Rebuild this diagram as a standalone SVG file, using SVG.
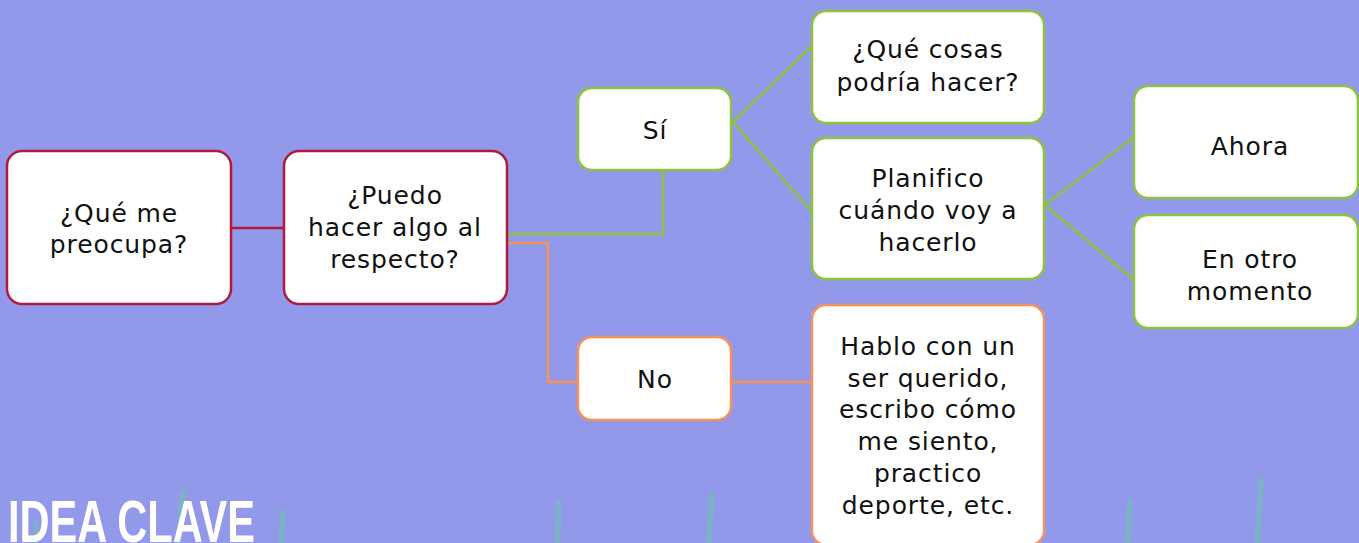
<svg xmlns="http://www.w3.org/2000/svg" width="1359" height="543" viewBox="0 0 1359 543">
<style>
.box{fill:#fff;stroke-width:2.5}
.red{stroke:#b01a3c}
.green{stroke:#8cc43f}
.orange{stroke:#f4925c}
.t{font-family:"DejaVu Sans","Open Sans",sans-serif;font-size:25px;letter-spacing:0.9px;fill:#111;text-anchor:middle}
.deco{stroke:#7fb0c9;stroke-width:6;stroke-linecap:round;fill:none}
.c{fill:none;stroke-width:2.5}
</style>
<rect width="1359" height="543" fill="#9399ea"/>
<g id="decor">
<line class="deco" x1="36" y1="524" x2="35" y2="548"/>
<line class="deco" x1="183" y1="493" x2="178" y2="548"/>
<line class="deco" x1="283" y1="512" x2="281" y2="548"/>
<line class="deco" x1="559" y1="502" x2="557" y2="548"/>
<line class="deco" x1="712" y1="495" x2="708" y2="548"/>
<line class="deco" x1="1130" y1="501" x2="1127" y2="548"/>
<line class="deco" x1="1261" y1="480" x2="1257" y2="548"/>
</g>
<text id="title" x="8" y="542" textLength="247" lengthAdjust="spacingAndGlyphs" font-family="'Liberation Sans Narrow','Liberation Sans',sans-serif" font-weight="bold" font-size="60" fill="#fff">IDEA CLAVE</text>
<g id="connectors">
<line class="c red" x1="231" y1="228" x2="284" y2="228"/>
<polyline class="c green" points="507,234 663,234 663,170"/>
<polyline class="c green" points="812,46 733,122 812,212"/>
<polyline class="c green" points="1134,137 1045,205 1134,280"/>
<polyline class="c orange" points="507,243 548,243 548,382 578,382"/>
<line class="c orange" x1="731" y1="382" x2="812" y2="382"/>
</g>
<g id="n1"><rect class="box red" x="7" y="151" width="224" height="153" rx="15"/>
<text class="t" x="119" y="222">¿Qué me</text><text class="t" x="119" y="253">preocupa?</text></g>
<g id="n2"><rect class="box red" x="284" y="151" width="223" height="153" rx="15"/>
<text class="t" x="395" y="204">¿Puedo</text><text class="t" x="395" y="236">hacer algo al</text><text class="t" x="395" y="268">respecto?</text></g>
<g id="n3"><rect class="box green" x="578" y="88" width="153" height="82" rx="14"/>
<text class="t" x="655" y="139">Sí</text></g>
<g id="n4"><rect class="box green" x="812" y="11" width="232" height="112" rx="14"/>
<text class="t" x="928" y="58">¿Qué cosas</text><text class="t" x="928" y="91">podría hacer?</text></g>
<g id="n5"><rect class="box green" x="812" y="138" width="232" height="141" rx="14"/>
<text class="t" x="928" y="187">Planifico</text><text class="t" x="928" y="219">cuándo voy a</text><text class="t" x="928" y="251">hacerlo</text></g>
<g id="n6"><rect class="box green" x="1134" y="86" width="224" height="112" rx="14"/>
<text class="t" x="1250" y="155">Ahora</text></g>
<g id="n7"><rect class="box green" x="1134" y="215" width="224" height="113" rx="14"/>
<text class="t" x="1250" y="268">En otro</text><text class="t" x="1250" y="300">momento</text></g>
<g id="n8"><rect class="box orange" x="578" y="337" width="153" height="83" rx="14"/>
<text class="t" x="655" y="388">No</text></g>
<g id="n9"><rect class="box orange" x="812" y="305" width="232" height="240" rx="14"/>
<text class="t" x="928" y="355">Hablo con un</text><text class="t" x="928" y="387">ser querido,</text><text class="t" x="928" y="418">escribo cómo</text><text class="t" x="928" y="450">me siento,</text><text class="t" x="928" y="482">practico</text><text class="t" x="928" y="514">deporte, etc.</text></g>
</svg>
